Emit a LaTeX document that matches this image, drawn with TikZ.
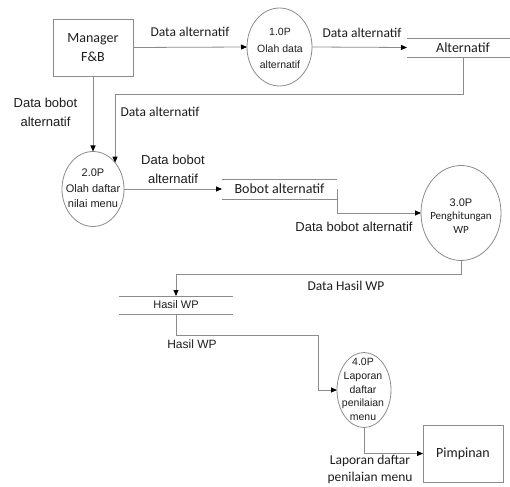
\documentclass[tikz,border=0pt]{standalone}
\usepackage{fontspec}
\setmainfont{Carlito}
\newfontfamily\arialf{Liberation Sans}
\usetikzlibrary{shapes.geometric,arrows.meta}
\definecolor{lc}{RGB}{140,140,140}
\definecolor{tc}{RGB}{30,30,30}
\begin{document}
\begin{tikzpicture}[x=1pt,y=-1pt,
  ln/.style={draw=lc, line width=0.8pt},
  arr/.style={ln, -{Triangle[length=6pt,width=5pt,color=black]}},
  proc/.style={ellipse, draw=lc, line width=0.8pt, inner sep=0pt, outer sep=0pt},
  ent/.style={rectangle, draw=lc, line width=0.8pt, inner sep=0pt, outer sep=0pt},
  store/.style={rectangle, inner sep=0pt, outer sep=0pt, text=tc},
  lbl/.style={inner sep=0pt, align=center, text=tc},
  cal/.style={font=\fontsize{13.5}{19}\selectfont},
  ari/.style={font=\arialf\fontsize{13}{19}\selectfont},
]
\useasboundingbox (0,0) rectangle (510,486);
\fill[white] (0,0) rectangle (510,486);

% entities
\node[ent, minimum width=80pt, minimum height=57pt, lbl, font=\fontsize{14}{19}\selectfont] (mgr) at (93,47.5) {Manager\\F\&B};
\node[ent, minimum width=80pt, minimum height=57pt, lbl, font=\fontsize{14}{19}\selectfont] (pim) at (463,453.5) {Pimpinan};

% processes
\node[proc, minimum width=65pt, minimum height=78pt] (c1) at (279.5,47) {};
\node[lbl, font=\arialf\fontsize{10.5}{16.5}\selectfont] (c1t) at (280,48.5) {1.0P\\Olah data\\alternatif};

\node[proc, minimum width=62pt, minimum height=75pt] (c2) at (93,189) {};
\node[lbl, font=\arialf\fontsize{11}{15.5}\selectfont] (c2t) at (93,188.5) {2.0P\\Olah daftar\\nilai menu};

\node[proc, minimum width=80pt, minimum height=95pt] (c3) at (461,213) {};
\node[lbl, font=\fontsize{11}{13.5}\selectfont] (c3t) at (461,216) {{\arialf 3.0P}\\Penghitungan\\WP};

\node[proc, minimum width=54pt, minimum height=75pt] (c4) at (364,390) {};
\node[lbl, font=\arialf\fontsize{10.5}{13.75}\selectfont] (c4t) at (363,389.5) {4.0P\\Laporan\\daftar\\penilaian\\menu};

% data stores
\node[store, minimum width=112pt, minimum height=19pt, font=\fontsize{14}{16}\selectfont] (s1) at (463,47.5) {Alternatif};
\draw[ln] (s1.north west) -- (s1.north east) (s1.south west) -- (s1.south east);
\node[store, minimum width=115pt, minimum height=20pt, font=\fontsize{14}{16}\selectfont] (s2) at (279.5,189) {Bobot alternatif};
\draw[ln] (s2.north west) -- (s2.north east) (s2.south west) -- (s2.south east);
\node[store, minimum width=114pt, minimum height=18pt, font=\arialf\fontsize{11}{13}\selectfont] (s3) at (176,305) {Hasil WP};
\draw[ln] (s3.north west) -- (s3.north east) (s3.south west) -- (s3.south east);

% bend coordinates
\coordinate (k1) at (0,94);
\coordinate (k3) at (0,274);
\coordinate (k4) at (318,335);

% connectors
\draw[arr] (mgr.east) -- (c1.west);
\draw[arr] (c1.east) -- (s1.west);
\draw[arr] (s1.south) -- (s1.south |- k1) -- (c2.50.2 |- k1) -- (c2.50.2);
\draw[arr] (mgr.south) -- (c2.north);
\draw[arr] (c2.east) -- (s2.west);
\draw[arr] (s2.east) |- (c3.west);
\draw[arr] (c3.south) -- (c3.south |- k3) -| (s3.north);
\draw[arr] (s3.south) |- (k4) |- (c4.west);
\draw[arr] (c4.south) |- (pim.west);

% labels
\node[lbl, cal] (l1) at (190,32) {Data alternatif};
\node[lbl, cal] (l2) at (362,33) {Data alternatif};
\node[lbl, cal] (l3) at (160,112) {Data alternatif};
\node[lbl, ari] (l4) at (45.5,112.5) {Data bobot\\alternatif};
\node[lbl, ari] (l5) at (173,169) {Data bobot\\alternatif};
\node[lbl, ari] (l6) at (354,227) {Data bobot alternatif};
\node[lbl, cal] (l7) at (346,286) {Data Hasil WP};
\node[lbl, font=\arialf\fontsize{12}{16}\selectfont] (l8) at (192,344) {Hasil WP};
\node[lbl, font=\fontsize{13.5}{17}\selectfont] (l9) at (370,469.5) {Laporan daftar\\penilaian menu};
\end{tikzpicture}
\end{document}
